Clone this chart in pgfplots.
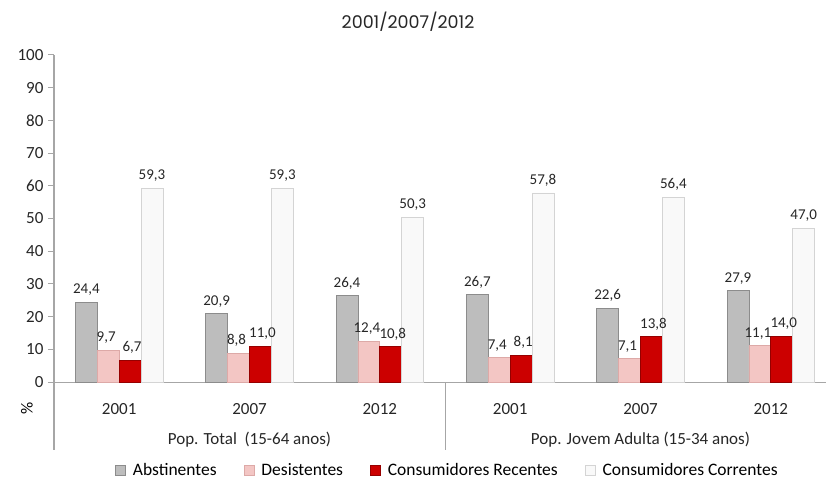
\documentclass[border=0pt]{standalone}
\usepackage{fontspec}
\setmainfont{Carlito}
\newfontfamily\titlefont{Poppins}
\usepackage{pgfplots}
\pgfplotsset{compat=1.18}
\definecolor{axisgray}{HTML}{A6A6A6}
\definecolor{absfill}{HTML}{BDBDBD}
\definecolor{absdraw}{HTML}{8C8C8C}
\definecolor{desfill}{HTML}{F3C6C4}
\definecolor{desdraw}{HTML}{DDA9A7}
\definecolor{recfill}{HTML}{CC0000}
\definecolor{recdraw}{HTML}{960000}
\definecolor{corfill}{HTML}{F9F9F9}
\definecolor{cordraw}{HTML}{D4D4D4}
\begin{document}
\begin{tikzpicture}[x=1pt,y=1pt]
\useasboundingbox (0,0) rectangle (826,-486);
\node[font=\titlefont\fontsize{17.5}{20}\selectfont, text=black!85] at (408,-22) {2001/2007/2012};
\node[rotate=90, font=\fontsize{17}{20}\selectfont] at (27,-408) {\%};
\begin{axis}[
  at={(54pt,-382pt)}, anchor=south west,
  scale only axis, width=782pt, height=327pt,
  xmin=-0.5, xmax=5.5, ymin=0, ymax=100,
  ytick={0,10,...,100},
  xtick={0,...,5}, xticklabels={2001,2007,2012,2001,2007,2012},
  axis x line*=bottom, axis y line*=left,
  axis line style={axisgray, line width=1pt},
  ytick style={axisgray, line width=1pt},
  xtick style={draw=none},
  tick align=outside, major tick length=6pt,
  /pgf/number format/assume math mode=true,
  ticklabel style={font=\fontsize{17}{20}\selectfont, text=black!85},
  xticklabel style={yshift=-12pt},
  yticklabel style={xshift=-1pt},
  clip=false,
  ybar=0pt, bar width=0.168,
  nodes near coords={\pgfmathprintnumber[fixed,fixed zerofill,precision=1,use comma,assume math mode=true]{\pgfplotspointmeta}},
  every node near coord/.append style={font=\fontsize{15}{18}\selectfont, text=black!85, yshift=3pt, inner xsep=0.5pt},
  legend image code/.code={\draw[#1] (0pt,-5pt) rectangle (10pt,5pt);},
  legend style={at={(0.503,-0.269)}, anchor=center, draw=none, fill=none,
    legend columns=-1, font=\fontsize{17.5}{20}\selectfont,
    /tikz/every odd column/.append style={column sep=5pt},
    /tikz/every even column/.append style={column sep=25pt}},
  legend cell align=left,
]
\addplot[draw=absdraw, fill=absfill, line width=0.8pt]
  coordinates {(0,24.4) (1,20.9) (2,26.4) (3,26.7) (4,22.6) (5,27.9)};
\addlegendentry{Abstinentes}
\addplot[draw=desdraw, fill=desfill, line width=0.8pt, every node near coord/.append style={xshift=-2pt}]
  coordinates {(0,9.7) (1,8.8) (2,12.4) (3,7.4) (4,7.1) (5,11.1)};
\addlegendentry{Desistentes}
\addplot[draw=recdraw, fill=recfill, line width=0.8pt, every node near coord/.append style={xshift=2pt}]
  coordinates {(0,6.7) (1,11.0) (2,10.8) (3,8.1) (4,13.8) (5,14.0)};
\addlegendentry{Consumidores Recentes}
\addplot[draw=cordraw, fill=corfill, line width=0.8pt]
  coordinates {(0,59.3) (1,59.3) (2,50.3) (3,57.8) (4,56.4) (5,47.0)};
\addlegendentry{Consumidores Correntes}
\draw[axisgray, line width=1pt] (axis cs:-0.5,0) -- ([yshift=-68pt]axis cs:-0.5,0);
\draw[axisgray, line width=1pt] (axis cs:2.5,0) -- ([yshift=-68pt]axis cs:2.5,0);
\node[font=\fontsize{17}{20}\selectfont, text=black!85] at (axis cs:1,0) [yshift=-58pt] {Pop. Total\ \ (15-64 anos)};
\node[font=\fontsize{17}{20}\selectfont, text=black!85] at (axis cs:4,0) [yshift=-58pt] {Pop. Jovem Adulta (15-34 anos)};
\end{axis}
\end{tikzpicture}
\end{document}
